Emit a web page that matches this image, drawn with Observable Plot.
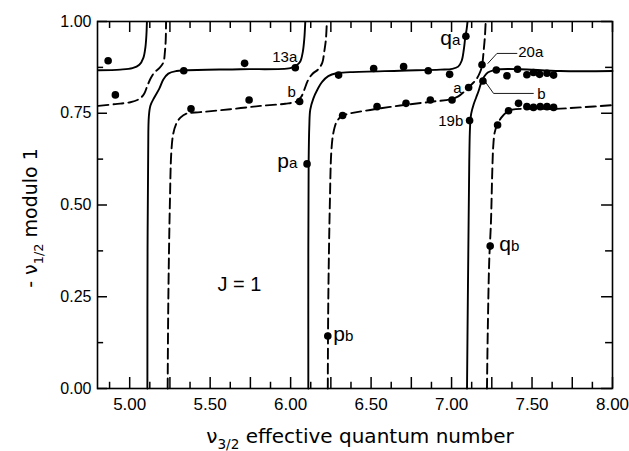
<!DOCTYPE html>
<html><head><meta charset="utf-8">
<script src="https://cdn.jsdelivr.net/npm/d3@7"></script>
<script src="https://cdn.jsdelivr.net/npm/@observablehq/plot@0.6"></script>
<style>html,body{margin:0;padding:0;background:#fff;} svg{display:block;}</style>
</head><body><div id="chart"></div>
<script>
// ---- axis ticks and labels ----
const xMajorTicks = [5, 5.25, 5.5, 5.75, 6, 6.25, 6.5, 6.75, 7, 7.25, 7.5, 7.75, 8];
const xMinorTicks = [4.875, 5.125, 5.375, 5.625, 5.875, 6.125, 6.375, 6.625, 6.875, 7.125, 7.375, 7.625, 7.875];
const xTickValues = [5, 5.5, 6, 6.5, 7, 7.5, 8];
const xTickLabels = ["5.00", "5.50", "6.00", "6.50", "7.00", "7.50", "8.00"];
const yMajorTicks = [0, 0.25, 0.5, 0.75, 1];
const yMinorTicks = [0.125, 0.375, 0.625, 0.875];
const yTickLabels = ["0.00", "0.25", "0.50", "0.75", "1.00"];
const xTitle = "ν_3/2 effective quantum number";
const yTitle = "- ν_1/2 modulo 1";

const levels = [[4.866,0.893],[4.911,0.800],[5.336,0.866],[5.381,0.762],[5.714,0.886],[5.742,0.786],[6.029,0.874],[6.056,0.782],[6.102,0.612],[6.298,0.854],[6.323,0.744],[6.516,0.872],[6.537,0.768],[6.702,0.877],[6.717,0.777],[6.855,0.866],[6.868,0.786],[6.988,0.856],[7.003,0.786],[7.089,0.960],[7.106,0.820],[7.189,0.882],[7.195,0.838],[7.112,0.730],[7.278,0.868],[7.286,0.718],[7.344,0.852],[7.354,0.757],[7.410,0.870],[7.416,0.777],[7.468,0.855],[7.509,0.861],[7.547,0.856],[7.593,0.859],[7.634,0.854],[7.468,0.768],[7.509,0.766],[7.551,0.768],[7.593,0.768],[7.634,0.766],[6.231,0.143],[7.240,0.388]];

// ---- theoretical curves (solid and dashed branches) ----
const solidA = [[4.806,0.867],[4.942,0.869],[5.017,0.873],[5.060,0.882],[5.085,0.901],[5.098,0.931],[5.104,0.964],[5.107,0.999]];
const solidB = [[5.110,0],[5.111,0.374],[5.115,0.646],[5.119,0.741],[5.129,0.771],[5.153,0.793],[5.184,0.817],[5.209,0.842],[5.240,0.858],[5.290,0.865],[5.346,0.867],[5.688,0.870],[5.998,0.873],[6.035,0.880],[6.060,0.891],[6.076,0.918],[6.085,0.953],[6.091,0.999]];
const solidC = [[6.110,0],[6.110,0.374],[6.112,0.619],[6.116,0.714],[6.122,0.760],[6.141,0.790],[6.166,0.814],[6.197,0.836],[6.234,0.851],[6.284,0.859],[6.371,0.862],[6.681,0.866],[6.930,0.869],[7.004,0.871],[7.041,0.877],[7.063,0.893],[7.076,0.923],[7.085,0.956],[7.094,0.980],[7.099,0.999]];
const solidD = [[7.096,0],[7.101,0.238],[7.106,0.456],[7.110,0.619],[7.115,0.714],[7.122,0.749],[7.137,0.774],[7.153,0.793],[7.169,0.812],[7.184,0.833],[7.203,0.850],[7.225,0.861],[7.259,0.867],[7.303,0.870],[7.427,0.870],[7.675,0.865],[8.0,0.865]];
const dashedA = [[4.806,0.770],[4.911,0.775],[5.004,0.780],[5.060,0.789],[5.091,0.804],[5.110,0.825],[5.129,0.844],[5.153,0.861],[5.184,0.873],[5.209,0.888],[5.219,0.918],[5.224,0.950],[5.226,0.999]];
const dashedB = [[5.236,0],[5.240,0.238],[5.250,0.510],[5.259,0.646],[5.271,0.695],[5.290,0.722],[5.315,0.738],[5.352,0.749],[5.439,0.753],[5.625,0.761],[5.812,0.770],[5.967,0.776],[6.035,0.782],[6.066,0.795],[6.085,0.814],[6.107,0.839],[6.135,0.857],[6.172,0.870],[6.197,0.888],[6.209,0.918],[6.219,0.950],[6.225,0.999]];
const dashedC = [[6.231,0],[6.234,0.238],[6.244,0.510],[6.253,0.646],[6.265,0.695],[6.284,0.725],[6.309,0.739],[6.346,0.747],[6.495,0.759],[6.681,0.771],[6.868,0.781],[6.992,0.788],[7.042,0.796],[7.079,0.809],[7.116,0.825],[7.153,0.842],[7.178,0.863],[7.191,0.885],[7.200,0.923],[7.207,0.958],[7.212,0.999]];
const dashedD = [[7.220,0],[7.225,0.157],[7.234,0.347],[7.245,0.456],[7.253,0.592],[7.259,0.660],[7.268,0.698],[7.284,0.719],[7.309,0.738],[7.340,0.752],[7.377,0.760],[7.489,0.762],[7.650,0.762],[7.799,0.766],[8.0,0.772]];

// ---- annotations ----
const levelLabels = [
  {text: "13a", x: 5.886, y: 0.890},
  {text: "b", x: 5.980, y: 0.795},
  {text: "20a", x: 7.414, y: 0.904},
  {text: "a", x: 7.011, y: 0.804},
  {text: "b", x: 7.532, y: 0.790},
  {text: "19b", x: 6.917, y: 0.714}
];
const seriesLabels = [
  {text: "p_a", x: 5.917, y: 0.600},
  {text: "q_a", x: 6.930, y: 0.935},
  {text: "p_b", x: 6.265, y: 0.130},
  {text: "q_b", x: 7.296, y: 0.376}
];
const panelLabel = [{text: "J = 1", x: 5.545, y: 0.265}];
const leader20a = [[7.226,0.886],[7.282,0.913],[7.406,0.913]];
const leader20b = [[7.209,0.836],[7.261,0.804],[7.508,0.804]];

const solidBranches = [solidA, solidB, solidC, solidD];
const dashedBranches = [dashedA, dashedB, dashedC, dashedD];

const plot = Plot.plot({
  width: 629, height: 451,
  marginLeft: 97, marginRight: 17, marginTop: 21, marginBottom: 63,
  x: {domain: [4.8, 8], axis: null},
  y: {domain: [0, 1], axis: null},
  style: {fontFamily: "'Liberation Sans', Arial, sans-serif"},
  marks: [
    // inward ticks (lengths in data units: ~11 px and ~6 px)
    Plot.ruleX(xMajorTicks, {x: d => d, y1: 0, y2: 0.03, stroke: "black", strokeWidth: 1.5}),
    Plot.ruleX(xMinorTicks, {x: d => d, y1: 0, y2: 0.017, stroke: "black", strokeWidth: 1.5}),
    Plot.ruleX(xMajorTicks, {x: d => d, y1: 1, y2: 0.97, stroke: "black", strokeWidth: 1.5}),
    Plot.ruleX(xMinorTicks, {x: d => d, y1: 1, y2: 0.981, stroke: "black", strokeWidth: 1.5}),
    Plot.ruleY(yMajorTicks, {y: d => d, x1: 4.8, x2: 4.862, stroke: "black", strokeWidth: 1.5}),
    Plot.ruleY(yMinorTicks, {y: d => d, x1: 4.8, x2: 4.838, stroke: "black", strokeWidth: 1.5}),
    Plot.ruleY(yMajorTicks, {y: d => d, x1: 8, x2: 7.932, stroke: "black", strokeWidth: 1.5}),
    Plot.ruleY(yMinorTicks, {y: d => d, x1: 8, x2: 7.957, stroke: "black", strokeWidth: 1.5}),
    // tick labels
    Plot.axisX({anchor: "bottom", ticks: xTickValues, tickSize: 0, tickPadding: 9, fontSize: 17,
      tickFormat: d => xTickLabels[xTickValues.indexOf(d)], label: null}),
    Plot.axisY({anchor: "left", ticks: yMajorTicks, tickSize: 0, tickPadding: 6, fontSize: 16,
      tickFormat: d => yTickLabels[yMajorTicks.indexOf(d)], label: null}),
    // curves
    ...solidBranches.map(b => Plot.line(b, {curve: "catmull-rom", stroke: "black", strokeWidth: 1.9})),
    ...dashedBranches.map(b => Plot.line(b, {curve: "catmull-rom", stroke: "black", strokeWidth: 1.9, strokeDasharray: "10,5"})),
    // leaders
    Plot.line(leader20a, {stroke: "black", strokeWidth: 0.9}),
    Plot.line(leader20b, {stroke: "black", strokeWidth: 0.9}),
    // dots
    Plot.dot(levels, {r: 3.8, fill: "black"}),
    // labels
    Plot.text(levelLabels, {x: "x", y: "y", text: "text", textAnchor: "start", lineAnchor: "bottom", fontSize: 15}),
    Plot.text(seriesLabels, {x: "x", y: "y", text: "text", textAnchor: "start", lineAnchor: "bottom", fontSize: 21}),
    Plot.text(panelLabel, {x: "x", y: "y", text: "text", textAnchor: "start", lineAnchor: "bottom", fontSize: 20}),
    // axis titles
    Plot.text([{t: xTitle}], {text: "t", frameAnchor: "bottom", dy: 54, dx: 5, lineAnchor: "bottom", textAnchor: "middle",
      fontSize: 20, fontFamily: "'DejaVu Sans', sans-serif"}),
    Plot.text([{t: yTitle}], {text: "t", frameAnchor: "left", rotate: -90, dx: -61, dy: 13, lineAnchor: "bottom", textAnchor: "middle",
      fontSize: 19, fontFamily: "'DejaVu Sans', sans-serif"}),
    Plot.frame({stroke: "black", strokeWidth: 1.6})
  ]
});
document.getElementById("chart").appendChild(plot);

// subscripts: "_" introduces a subscript token
d3.select(plot).selectAll("text").each(function () {
  const s = this.textContent;
  const m = s.match(/^(.*?)_(\S+)(.*)$/);
  if (!m) return;
  const [, pre, sub, post] = m;
  const fs = parseFloat(getComputedStyle(this).fontSize) || 16;
  const lowered = sub.includes("/");
  const subSize = lowered ? fs * 0.68 : fs * 0.72;
  const shift = lowered ? fs * 0.32 : 0;
  const sel = d3.select(this);
  this.textContent = "";
  sel.append("tspan").text(pre);
  sel.append("tspan").attr("font-size", subSize).attr("dy", shift).text(sub);
  if (post) sel.append("tspan").attr("dy", -shift).text(post);
});
</script>
</body></html>
